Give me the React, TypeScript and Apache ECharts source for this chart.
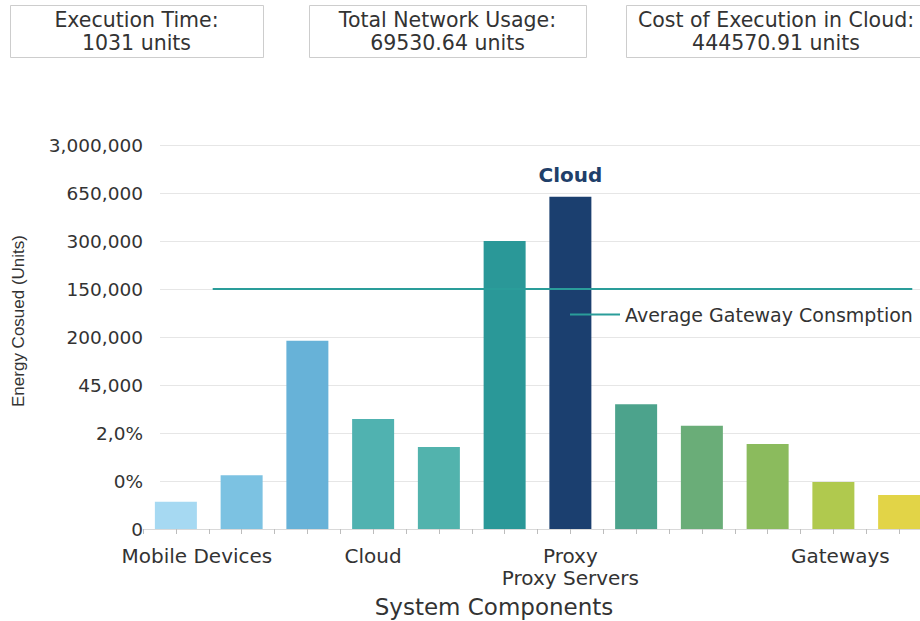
import React, { useEffect, useRef } from "react";
import * as echarts from "echarts";

const categories = ["Mobile Devices", "", "", "Cloud", "", "", "Proxy\nProxy Servers", "", "", "", "Gateways", ""];
const barValues = [0.57, 1.12, 3.92, 2.29, 1.71, 6.0, 6.92, 2.6, 2.15, 1.77, 0.98, 0.71];
const barColors = ["#a6d9f2", "#7cc2e2", "#67b2d8", "#50b2b0", "#52b3ad", "#2a9898", "#1b3f6f", "#4ca38c", "#6aad78", "#8bbb5d", "#b0c94e", "#e2d447"];
const yTickLabels = ["0", "0%", "2,0%", "45,000", "200,000", "150,000", "300,000", "650,000", "3,000,000"];
const highlightIndex = 6;
const highlightLabel = "Cloud";
const avgName = "Average Gateway Consmption";
const avgValue = 5;
const avgStart = 2.12;
const avgEnd = 23.4;
const statTitles = ["Execution Time:", "Total Network Usage:", "Cost of Execution in Cloud:"];
const statValues = ["1031 units", "69530.64 units", "444570.91 units"];

const FONT = "DejaVu Sans";
const CHART_W = 945;

export default function App() {
  const ref = useRef<HTMLDivElement>(null);
  useEffect(() => {
    if (!ref.current) return;
    const chart = echarts.init(ref.current, undefined, { renderer: "svg" });
    const boxes = [
      { x: 10, w: 253 },
      { x: 309, w: 277 },
      { x: 626, w: 300, cx: 776 },
    ];
    const graphics: any[] = [];
    boxes.forEach((b: any, i) => {
      const cx = b.cx ?? b.x + b.w / 2;
      graphics.push({
        type: "rect",
        shape: { x: b.x + 0.5, y: 5.5, width: b.w, height: 52 },
        style: { fill: "#fff", stroke: "#cdcdcd", lineWidth: 1 },
      });
      graphics.push({
        type: "text",
        x: cx,
        y: 20,
        style: { text: statTitles[i], fill: "#333", font: `20.5px "${FONT}"`, textAlign: "center", textVerticalAlign: "middle" },
      });
      graphics.push({
        type: "text",
        x: cx,
        y: 43,
        style: { text: statValues[i], fill: "#333", font: `20.5px "${FONT}"`, textAlign: "center", textVerticalAlign: "middle" },
      });
    });
    graphics.push({
      type: "text",
      x: 18,
      y: 321,
      rotation: Math.PI / 2,
      style: { text: "Energy Cosued (Units)", fill: "#333", font: `17px "Liberation Sans"`, textAlign: "center", textVerticalAlign: "middle" },
    });
    graphics.push({
      type: "text",
      x: 494,
      y: 607,
      style: { text: "System Components", fill: "#333", font: `23px "${FONT}"`, textAlign: "center", textVerticalAlign: "middle" },
    });

    const rightGap = CHART_W - 932;
    const option: any = {
      animation: false,
      backgroundColor: "#ffffff",
      textStyle: { fontFamily: FONT },
      grid: [
        { left: 160, right: rightGap, top: 145, bottom: 92 },
        { left: 143, right: rightGap, top: 145, bottom: 92 },
      ],
      legend: {
        data: [{ name: avgName, icon: "rect" }],
        left: 570,
        top: 305,
        padding: 0,
        itemWidth: 50,
        itemHeight: 2,
        itemGap: 5,
        textStyle: { fontSize: 19, color: "#333", fontFamily: FONT },
      },
      xAxis: [
        { type: "value", gridIndex: 0, show: false, min: 0, max: 1 },
        {
          type: "category",
          gridIndex: 1,
          data: categories,
          axisLine: { show: true, lineStyle: { color: "#d9d9d9", width: 1 } },
          axisTick: { show: false },
          axisLabel: {
            interval: 0,
            margin: 16,
            fontSize: 20,
            lineHeight: 22,
            color: "#333",
            fontFamily: FONT,
            formatter: (v: string, i: number) => (i === 0 ? `{m|${v}}` : i === 10 ? `{g|${v}}` : v),
            rich: {
              m: { padding: [0, 0, 0, 42], fontSize: 20, color: "#333", fontFamily: FONT },
              g: { padding: [0, 0, 0, 14], fontSize: 20, color: "#333", fontFamily: FONT },
            },
          },
        },
        {
          type: "value",
          gridIndex: 1,
          min: 0,
          max: 24,
          interval: 1,
          position: "bottom",
          axisLine: { show: false },
          axisTick: { show: true, length: 5, lineStyle: { color: "#bdbdbd" } },
          axisLabel: { show: false },
          splitLine: { show: false },
        },
      ],
      yAxis: [
        {
          type: "value",
          gridIndex: 0,
          min: 0,
          max: 8,
          interval: 1,
          axisLine: { show: false },
          axisTick: { show: false },
          splitLine: { show: true, lineStyle: { color: "#e6e6e6", width: 1 } },
          axisLabel: {
            margin: 17,
            fontSize: 18.5,
            color: "#333",
            fontFamily: FONT,
            formatter: (v: number) => yTickLabels[Math.round(v)] ?? "",
          },
        },
        { type: "value", gridIndex: 1, min: 0, max: 8, interval: 1, show: false, splitLine: { show: false } },
      ],
      series: [
        {
          type: "bar",
          xAxisIndex: 1,
          yAxisIndex: 1,
          barWidth: 42,
          data: barValues.map((v, i) => ({
            value: v,
            itemStyle: { color: barColors[i] },
            label:
              i === highlightIndex
                ? {
                    show: true,
                    position: "top",
                    distance: 12,
                    formatter: highlightLabel,
                    fontSize: 20,
                    fontWeight: "bold",
                    color: "#1f3f6a",
                    fontFamily: FONT,
                  }
                : { show: false },
          })),
          z: 2,
        },
        {
          name: avgName,
          type: "line",
          xAxisIndex: 2,
          yAxisIndex: 1,
          symbol: "none",
          data: [
            [avgStart, avgValue],
            [avgEnd, avgValue],
          ],
          lineStyle: { color: "#2a9d9a", width: 2 },
          itemStyle: { color: "#2a9d9a" },
          z: 5,
        },
      ],
      graphic: graphics,
    };
    chart.setOption(option);
    return () => chart.dispose();
  }, []);
  return (
    <div style={{ position: "fixed", left: 0, top: 0, width: 920, height: 621, overflow: "hidden", background: "#fff" }}>
      <div ref={ref} style={{ width: CHART_W, height: 621 }} />
    </div>
  );
}
